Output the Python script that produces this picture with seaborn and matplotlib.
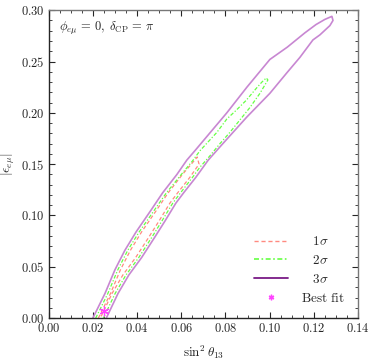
import matplotlib
matplotlib.use("Agg")
import matplotlib.pyplot as plt
import numpy as np
import pandas as pd
import seaborn as sns
from matplotlib.lines import Line2D
from matplotlib.ticker import MultipleLocator, FuncFormatter

# 3 sigma contour (left edge going up, then right edge coming down)
s3_x = [0.0199, 0.0254, 0.0299, 0.0344, 0.0395, 0.0462, 0.0515, 0.0580, 0.0625, 0.0665,
        0.0712, 0.0806, 0.0897, 0.1001, 0.1080, 0.1160, 0.1210, 0.1250, 0.1282,
        0.1287, 0.1273, 0.1228, 0.1196, 0.1137, 0.1078, 0.1001, 0.0897, 0.0788, 0.0722,
        0.0665, 0.0610, 0.0575, 0.0527, 0.0480, 0.0420, 0.0362, 0.0313, 0.0260]
s3_y = [0.000, 0.024, 0.047, 0.066, 0.084, 0.105, 0.122, 0.140, 0.154, 0.164,
        0.176, 0.200, 0.225, 0.252, 0.264, 0.278, 0.286, 0.291, 0.294,
        0.290, 0.285, 0.276, 0.271, 0.254, 0.239, 0.219, 0.196, 0.170, 0.154,
        0.137, 0.122, 0.112, 0.095, 0.079, 0.059, 0.042, 0.024, 0.000]

# 2 sigma contour
s2_x = [0.0212, 0.0267, 0.0312, 0.0357, 0.0409, 0.0477, 0.0532, 0.0600, 0.0650, 0.0684,
        0.0761, 0.0806, 0.0846, 0.0893, 0.0940, 0.0965, 0.0985,
        0.0992, 0.0956, 0.0910, 0.0865, 0.0820, 0.0775, 0.0729, 0.0684, 0.0650, 0.0596,
        0.0561, 0.0513, 0.0467, 0.0407, 0.0349, 0.0300, 0.0247]
s2_y = [0.000, 0.024, 0.047, 0.066, 0.084, 0.105, 0.122, 0.140, 0.153, 0.163,
        0.181, 0.194, 0.202, 0.212, 0.224, 0.230, 0.234,
        0.232, 0.219, 0.205, 0.193, 0.181, 0.170, 0.158, 0.147, 0.137, 0.122,
        0.112, 0.095, 0.079, 0.059, 0.042, 0.024, 0.000]

# 1 sigma contour
s1_x = [0.0224, 0.0279, 0.0324, 0.0369, 0.0420, 0.0487, 0.0540, 0.0605, 0.0645, 0.0672,
        0.0680, 0.0638, 0.0583, 0.0548, 0.0500, 0.0453, 0.0393, 0.0335, 0.0286, 0.0233]
s1_y = [0.000, 0.024, 0.047, 0.066, 0.084, 0.105, 0.122, 0.140, 0.150, 0.157,
        0.150, 0.137, 0.122, 0.112, 0.095, 0.079, 0.059, 0.042, 0.024, 0.000]

best_x = [0.0248]
best_y = [0.007]

c1 = "#ff8a80"
c2 = "#66ff44"
c3 = "#c887d2"
c3_leg = "#7a1a86"
cbest = "#ff44ff"

sns.set_style("ticks")
plt.rcParams["mathtext.fontset"] = "cm"
plt.rcParams["font.family"] = ["DejaVu Serif"]

fig = plt.figure(figsize=(3.82, 3.64), dpi=100)
ax = fig.add_axes([0.128, 0.126, 0.809, 0.846])

for xs, ys, col, ls, lw in [(s1_x, s1_y, c1, (0, (3, 2)), 0.9),
                            (s2_x, s2_y, c2, (0, (3, 1.5, 1, 1.5)), 0.9),
                            (s3_x, s3_y, c3, "-", 1.2)]:
    d = pd.DataFrame({"x": xs, "y": ys})
    sns.lineplot(data=d, x="x", y="y", sort=False, estimator=None, color=col,
                 linestyle=ls, linewidth=lw, ax=ax)

sns.scatterplot(x=best_x, y=best_y, marker=(6, 2, 0), s=40, color=cbest,
                edgecolor=cbest, linewidth=0.9, ax=ax, zorder=5)

ax.set_xlim(0, 0.14)
ax.set_ylim(0, 0.30)
ax.xaxis.set_major_locator(MultipleLocator(0.02))
ax.xaxis.set_minor_locator(MultipleLocator(0.005))
ax.yaxis.set_major_locator(MultipleLocator(0.05))
ax.yaxis.set_minor_locator(MultipleLocator(0.01))
fmt = FuncFormatter(lambda v, p: f"${v:.2f}$")
ax.xaxis.set_major_formatter(fmt)
ax.yaxis.set_major_formatter(fmt)
ax.tick_params(which="both", direction="in", top=True, right=True, labelsize=9, pad=3)
ax.tick_params(which="major", length=4, width=0.8)
ax.tick_params(which="minor", length=2, width=0.6)
for s in ["top", "right"]:
    ax.spines[s].set_color("#777777")
for s in ax.spines.values():
    s.set_linewidth(1.0)

ax.set_xlabel(r"$\sin^2\theta_{13}$", fontsize=9.5, labelpad=6)
ax.set_ylabel(r"$|\epsilon_{e\mu}|$", fontsize=9.5)
ax.yaxis.set_label_coords(-0.104, 0.5)
ax.text(0.0045, 0.282, r"$\phi_{e\mu}\,=\,0,\;\delta_{\rm CP}\,=\,\pi$", fontsize=9, va="center")

handles = [Line2D([], [], color=c1, linestyle=(0, (3, 2)), lw=1.0),
           Line2D([], [], color=c2, linestyle=(0, (3, 1.5, 1, 1.5)), lw=1.2),
           Line2D([], [], color=c3_leg, linestyle="-", lw=1.3),
           Line2D([], [], color=cbest, marker=(6, 2, 0), linestyle="none", markersize=4)]
labels = [r"$\quad1\sigma$", r"$\quad2\sigma$", r"$\quad3\sigma$", r"$\mathrm{Best\ fit}$"]
leg = ax.legend(handles, labels, loc="lower right", frameon=False, fontsize=9.5,
                handlelength=2.6, labelspacing=0.45, borderaxespad=0.6, handletextpad=1.0)

fig.savefig("out.png", dpi=100)
